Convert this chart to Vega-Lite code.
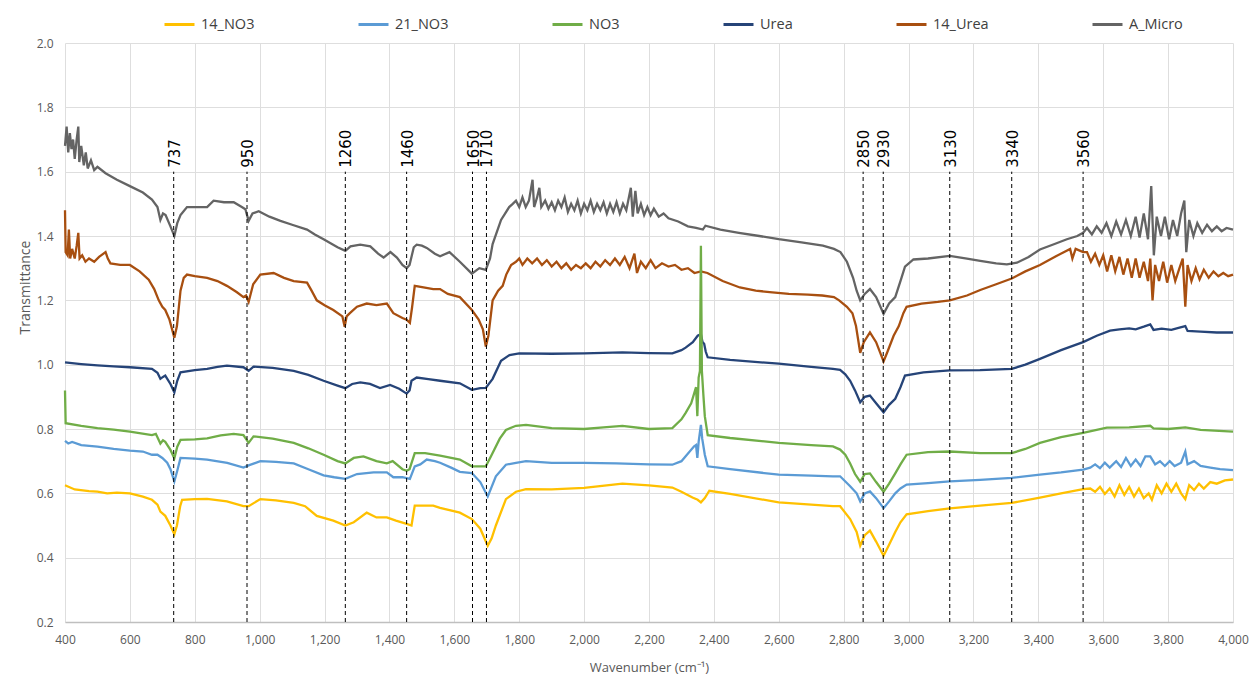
{
  "$schema": "https://vega.github.io/schema/vega-lite/v6.json",
  "width": 1168,
  "height": 579,
  "autosize": {"type": "none"},
  "padding": {"left": 65, "top": 43, "right": 19, "bottom": 66},
  "background": "white",
  "config": {
    "view": {"stroke": null},
    "font": "Open Sans",
    "axis": {"labelFont": "Open Sans", "titleFont": "Open Sans", "labelColor": "#595959", "titleColor": "#595959", "gridColor": "#dedede", "gridWidth": 1, "ticks": false, "titleFontWeight": "normal", "labelFlush": false}
  },
  "datasets": {
    "peaks": [
      {"pos": 735, "label": "737"},
      {"pos": 961, "label": "950"},
      {"pos": 1264, "label": "1260"},
      {"pos": 1453, "label": "1460"},
      {"pos": 1656, "label": "1650"},
      {"pos": 1699, "label": "1710"},
      {"pos": 2860, "label": "2850"},
      {"pos": 2922, "label": "2930"},
      {"pos": 3127, "label": "3130"},
      {"pos": 3318, "label": "3340"},
      {"pos": 3538, "label": "3560"}
    ],
    "spectra": [
      {"s":"A_Micro","x":400,"y":1.68},{"s":"A_Micro","x":405,"y":1.74},{"s":"A_Micro","x":410,"y":1.66},{"s":"A_Micro","x":415,"y":1.72},{"s":"A_Micro","x":420,"y":1.67},{"s":"A_Micro","x":425,"y":1.70},{"s":"A_Micro","x":430,"y":1.64},{"s":"A_Micro","x":436,"y":1.70},{"s":"A_Micro","x":441,"y":1.74},{"s":"A_Micro","x":444,"y":1.63},{"s":"A_Micro","x":450,"y":1.68},{"s":"A_Micro","x":458,"y":1.62},{"s":"A_Micro","x":464,"y":1.66},{"s":"A_Micro","x":470,"y":1.61},{"s":"A_Micro","x":480,"y":1.635},{"s":"A_Micro","x":490,"y":1.605},{"s":"A_Micro","x":500,"y":1.615},{"s":"A_Micro","x":525,"y":1.595},{"s":"A_Micro","x":560,"y":1.575},{"s":"A_Micro","x":600,"y":1.555},{"s":"A_Micro","x":640,"y":1.535},{"s":"A_Micro","x":668,"y":1.513},{"s":"A_Micro","x":685,"y":1.49},{"s":"A_Micro","x":694,"y":1.45},{"s":"A_Micro","x":702,"y":1.47},{"s":"A_Micro","x":710,"y":1.465},{"s":"A_Micro","x":725,"y":1.43},{"s":"A_Micro","x":737,"y":1.40},{"s":"A_Micro","x":746,"y":1.44},{"s":"A_Micro","x":756,"y":1.465},{"s":"A_Micro","x":776,"y":1.49},{"s":"A_Micro","x":800,"y":1.49},{"s":"A_Micro","x":838,"y":1.49},{"s":"A_Micro","x":858,"y":1.51},{"s":"A_Micro","x":890,"y":1.505},{"s":"A_Micro","x":920,"y":1.505},{"s":"A_Micro","x":945,"y":1.49},{"s":"A_Micro","x":956,"y":1.483},{"s":"A_Micro","x":966,"y":1.447},{"s":"A_Micro","x":978,"y":1.47},{"s":"A_Micro","x":997,"y":1.477},{"s":"A_Micro","x":1030,"y":1.46},{"s":"A_Micro","x":1064,"y":1.447},{"s":"A_Micro","x":1100,"y":1.435},{"s":"A_Micro","x":1146,"y":1.42},{"s":"A_Micro","x":1170,"y":1.405},{"s":"A_Micro","x":1197,"y":1.39},{"s":"A_Micro","x":1240,"y":1.365},{"s":"A_Micro","x":1264,"y":1.354},{"s":"A_Micro","x":1280,"y":1.368},{"s":"A_Micro","x":1310,"y":1.373},{"s":"A_Micro","x":1341,"y":1.368},{"s":"A_Micro","x":1365,"y":1.345},{"s":"A_Micro","x":1382,"y":1.333},{"s":"A_Micro","x":1403,"y":1.35},{"s":"A_Micro","x":1423,"y":1.333},{"s":"A_Micro","x":1440,"y":1.31},{"s":"A_Micro","x":1453,"y":1.30},{"s":"A_Micro","x":1462,"y":1.31},{"s":"A_Micro","x":1475,"y":1.365},{"s":"A_Micro","x":1484,"y":1.373},{"s":"A_Micro","x":1500,"y":1.37},{"s":"A_Micro","x":1515,"y":1.363},{"s":"A_Micro","x":1540,"y":1.345},{"s":"A_Micro","x":1556,"y":1.337},{"s":"A_Micro","x":1585,"y":1.35},{"s":"A_Micro","x":1617,"y":1.32},{"s":"A_Micro","x":1654,"y":1.283},{"s":"A_Micro","x":1677,"y":1.30},{"s":"A_Micro","x":1697,"y":1.295},{"s":"A_Micro","x":1710,"y":1.33},{"s":"A_Micro","x":1718,"y":1.375},{"s":"A_Micro","x":1744,"y":1.45},{"s":"A_Micro","x":1769,"y":1.49},{"s":"A_Micro","x":1780,"y":1.50},{"s":"A_Micro","x":1790,"y":1.51},{"s":"A_Micro","x":1800,"y":1.49},{"s":"A_Micro","x":1810,"y":1.52},{"s":"A_Micro","x":1820,"y":1.49},{"s":"A_Micro","x":1830,"y":1.51},{"s":"A_Micro","x":1841,"y":1.575},{"s":"A_Micro","x":1846,"y":1.49},{"s":"A_Micro","x":1855,"y":1.52},{"s":"A_Micro","x":1862,"y":1.55},{"s":"A_Micro","x":1868,"y":1.49},{"s":"A_Micro","x":1880,"y":1.51},{"s":"A_Micro","x":1890,"y":1.485},{"s":"A_Micro","x":1900,"y":1.505},{"s":"A_Micro","x":1910,"y":1.48},{"s":"A_Micro","x":1920,"y":1.51},{"s":"A_Micro","x":1930,"y":1.49},{"s":"A_Micro","x":1940,"y":1.52},{"s":"A_Micro","x":1950,"y":1.475},{"s":"A_Micro","x":1960,"y":1.50},{"s":"A_Micro","x":1970,"y":1.48},{"s":"A_Micro","x":1980,"y":1.51},{"s":"A_Micro","x":1990,"y":1.47},{"s":"A_Micro","x":2000,"y":1.50},{"s":"A_Micro","x":2010,"y":1.48},{"s":"A_Micro","x":2020,"y":1.51},{"s":"A_Micro","x":2030,"y":1.475},{"s":"A_Micro","x":2040,"y":1.50},{"s":"A_Micro","x":2050,"y":1.48},{"s":"A_Micro","x":2060,"y":1.505},{"s":"A_Micro","x":2070,"y":1.47},{"s":"A_Micro","x":2080,"y":1.50},{"s":"A_Micro","x":2090,"y":1.475},{"s":"A_Micro","x":2100,"y":1.505},{"s":"A_Micro","x":2110,"y":1.47},{"s":"A_Micro","x":2120,"y":1.50},{"s":"A_Micro","x":2130,"y":1.48},{"s":"A_Micro","x":2144,"y":1.55},{"s":"A_Micro","x":2150,"y":1.46},{"s":"A_Micro","x":2158,"y":1.54},{"s":"A_Micro","x":2165,"y":1.47},{"s":"A_Micro","x":2175,"y":1.50},{"s":"A_Micro","x":2185,"y":1.465},{"s":"A_Micro","x":2195,"y":1.49},{"s":"A_Micro","x":2205,"y":1.465},{"s":"A_Micro","x":2215,"y":1.485},{"s":"A_Micro","x":2230,"y":1.46},{"s":"A_Micro","x":2245,"y":1.47},{"s":"A_Micro","x":2260,"y":1.455},{"s":"A_Micro","x":2290,"y":1.445},{"s":"A_Micro","x":2320,"y":1.43},{"s":"A_Micro","x":2345,"y":1.425},{"s":"A_Micro","x":2366,"y":1.42},{"s":"A_Micro","x":2374,"y":1.432},{"s":"A_Micro","x":2420,"y":1.42},{"s":"A_Micro","x":2477,"y":1.41},{"s":"A_Micro","x":2540,"y":1.40},{"s":"A_Micro","x":2600,"y":1.39},{"s":"A_Micro","x":2670,"y":1.38},{"s":"A_Micro","x":2736,"y":1.37},{"s":"A_Micro","x":2770,"y":1.36},{"s":"A_Micro","x":2790,"y":1.35},{"s":"A_Micro","x":2810,"y":1.32},{"s":"A_Micro","x":2829,"y":1.27},{"s":"A_Micro","x":2840,"y":1.23},{"s":"A_Micro","x":2851,"y":1.20},{"s":"A_Micro","x":2865,"y":1.22},{"s":"A_Micro","x":2881,"y":1.235},{"s":"A_Micro","x":2900,"y":1.21},{"s":"A_Micro","x":2923,"y":1.158},{"s":"A_Micro","x":2940,"y":1.19},{"s":"A_Micro","x":2959,"y":1.21},{"s":"A_Micro","x":2975,"y":1.26},{"s":"A_Micro","x":2989,"y":1.305},{"s":"A_Micro","x":3015,"y":1.327},{"s":"A_Micro","x":3060,"y":1.33},{"s":"A_Micro","x":3127,"y":1.338},{"s":"A_Micro","x":3180,"y":1.33},{"s":"A_Micro","x":3221,"y":1.323},{"s":"A_Micro","x":3270,"y":1.315},{"s":"A_Micro","x":3303,"y":1.312},{"s":"A_Micro","x":3334,"y":1.317},{"s":"A_Micro","x":3370,"y":1.335},{"s":"A_Micro","x":3405,"y":1.358},{"s":"A_Micro","x":3450,"y":1.375},{"s":"A_Micro","x":3488,"y":1.39},{"s":"A_Micro","x":3520,"y":1.40},{"s":"A_Micro","x":3538,"y":1.41},{"s":"A_Micro","x":3550,"y":1.425},{"s":"A_Micro","x":3565,"y":1.405},{"s":"A_Micro","x":3580,"y":1.43},{"s":"A_Micro","x":3595,"y":1.41},{"s":"A_Micro","x":3610,"y":1.44},{"s":"A_Micro","x":3625,"y":1.40},{"s":"A_Micro","x":3640,"y":1.445},{"s":"A_Micro","x":3655,"y":1.405},{"s":"A_Micro","x":3670,"y":1.45},{"s":"A_Micro","x":3685,"y":1.40},{"s":"A_Micro","x":3700,"y":1.46},{"s":"A_Micro","x":3712,"y":1.395},{"s":"A_Micro","x":3725,"y":1.47},{"s":"A_Micro","x":3738,"y":1.39},{"s":"A_Micro","x":3748,"y":1.555},{"s":"A_Micro","x":3756,"y":1.34},{"s":"A_Micro","x":3765,"y":1.46},{"s":"A_Micro","x":3778,"y":1.40},{"s":"A_Micro","x":3790,"y":1.46},{"s":"A_Micro","x":3803,"y":1.39},{"s":"A_Micro","x":3815,"y":1.45},{"s":"A_Micro","x":3828,"y":1.40},{"s":"A_Micro","x":3840,"y":1.47},{"s":"A_Micro","x":3850,"y":1.51},{"s":"A_Micro","x":3856,"y":1.35},{"s":"A_Micro","x":3865,"y":1.45},{"s":"A_Micro","x":3878,"y":1.40},{"s":"A_Micro","x":3890,"y":1.44},{"s":"A_Micro","x":3905,"y":1.41},{"s":"A_Micro","x":3920,"y":1.435},{"s":"A_Micro","x":3935,"y":1.415},{"s":"A_Micro","x":3950,"y":1.43},{"s":"A_Micro","x":3965,"y":1.415},{"s":"A_Micro","x":3980,"y":1.425},{"s":"A_Micro","x":4000,"y":1.42},

      {"s":"14_Urea","x":400,"y":1.48},{"s":"14_Urea","x":402,"y":1.35},{"s":"14_Urea","x":408,"y":1.34},{"s":"14_Urea","x":412,"y":1.42},{"s":"14_Urea","x":416,"y":1.33},{"s":"14_Urea","x":422,"y":1.36},{"s":"14_Urea","x":430,"y":1.33},{"s":"14_Urea","x":436,"y":1.37},{"s":"14_Urea","x":441,"y":1.41},{"s":"14_Urea","x":445,"y":1.33},{"s":"14_Urea","x":453,"y":1.34},{"s":"14_Urea","x":463,"y":1.32},{"s":"14_Urea","x":474,"y":1.33},{"s":"14_Urea","x":490,"y":1.32},{"s":"14_Urea","x":505,"y":1.335},{"s":"14_Urea","x":525,"y":1.35},{"s":"14_Urea","x":532,"y":1.33},{"s":"14_Urea","x":540,"y":1.315},{"s":"14_Urea","x":570,"y":1.31},{"s":"14_Urea","x":600,"y":1.31},{"s":"14_Urea","x":630,"y":1.29},{"s":"14_Urea","x":658,"y":1.264},{"s":"14_Urea","x":675,"y":1.235},{"s":"14_Urea","x":689,"y":1.20},{"s":"14_Urea","x":700,"y":1.18},{"s":"14_Urea","x":709,"y":1.17},{"s":"14_Urea","x":722,"y":1.14},{"s":"14_Urea","x":737,"y":1.084},{"s":"14_Urea","x":745,"y":1.12},{"s":"14_Urea","x":756,"y":1.23},{"s":"14_Urea","x":766,"y":1.27},{"s":"14_Urea","x":776,"y":1.28},{"s":"14_Urea","x":800,"y":1.275},{"s":"14_Urea","x":838,"y":1.27},{"s":"14_Urea","x":870,"y":1.26},{"s":"14_Urea","x":899,"y":1.245},{"s":"14_Urea","x":930,"y":1.225},{"s":"14_Urea","x":950,"y":1.21},{"s":"14_Urea","x":958,"y":1.215},{"s":"14_Urea","x":966,"y":1.195},{"s":"14_Urea","x":980,"y":1.25},{"s":"14_Urea","x":1002,"y":1.28},{"s":"14_Urea","x":1043,"y":1.285},{"s":"14_Urea","x":1075,"y":1.27},{"s":"14_Urea","x":1105,"y":1.26},{"s":"14_Urea","x":1146,"y":1.255},{"s":"14_Urea","x":1160,"y":1.23},{"s":"14_Urea","x":1176,"y":1.20},{"s":"14_Urea","x":1200,"y":1.185},{"s":"14_Urea","x":1227,"y":1.17},{"s":"14_Urea","x":1255,"y":1.15},{"s":"14_Urea","x":1262,"y":1.118},{"s":"14_Urea","x":1268,"y":1.15},{"s":"14_Urea","x":1278,"y":1.16},{"s":"14_Urea","x":1300,"y":1.18},{"s":"14_Urea","x":1330,"y":1.19},{"s":"14_Urea","x":1360,"y":1.185},{"s":"14_Urea","x":1392,"y":1.19},{"s":"14_Urea","x":1412,"y":1.16},{"s":"14_Urea","x":1440,"y":1.145},{"s":"14_Urea","x":1453,"y":1.14},{"s":"14_Urea","x":1463,"y":1.13},{"s":"14_Urea","x":1470,"y":1.18},{"s":"14_Urea","x":1478,"y":1.245},{"s":"14_Urea","x":1505,"y":1.24},{"s":"14_Urea","x":1535,"y":1.235},{"s":"14_Urea","x":1556,"y":1.235},{"s":"14_Urea","x":1580,"y":1.22},{"s":"14_Urea","x":1617,"y":1.21},{"s":"14_Urea","x":1654,"y":1.17},{"s":"14_Urea","x":1675,"y":1.14},{"s":"14_Urea","x":1688,"y":1.11},{"s":"14_Urea","x":1697,"y":1.056},{"s":"14_Urea","x":1705,"y":1.09},{"s":"14_Urea","x":1718,"y":1.20},{"s":"14_Urea","x":1735,"y":1.23},{"s":"14_Urea","x":1749,"y":1.245},{"s":"14_Urea","x":1760,"y":1.28},{"s":"14_Urea","x":1775,"y":1.31},{"s":"14_Urea","x":1790,"y":1.32},{"s":"14_Urea","x":1800,"y":1.33},{"s":"14_Urea","x":1810,"y":1.31},{"s":"14_Urea","x":1825,"y":1.33},{"s":"14_Urea","x":1840,"y":1.315},{"s":"14_Urea","x":1855,"y":1.33},{"s":"14_Urea","x":1870,"y":1.31},{"s":"14_Urea","x":1885,"y":1.325},{"s":"14_Urea","x":1900,"y":1.305},{"s":"14_Urea","x":1915,"y":1.32},{"s":"14_Urea","x":1930,"y":1.30},{"s":"14_Urea","x":1945,"y":1.315},{"s":"14_Urea","x":1960,"y":1.295},{"s":"14_Urea","x":1975,"y":1.31},{"s":"14_Urea","x":1990,"y":1.30},{"s":"14_Urea","x":2005,"y":1.315},{"s":"14_Urea","x":2020,"y":1.30},{"s":"14_Urea","x":2035,"y":1.32},{"s":"14_Urea","x":2050,"y":1.305},{"s":"14_Urea","x":2065,"y":1.325},{"s":"14_Urea","x":2080,"y":1.31},{"s":"14_Urea","x":2095,"y":1.33},{"s":"14_Urea","x":2110,"y":1.31},{"s":"14_Urea","x":2125,"y":1.335},{"s":"14_Urea","x":2140,"y":1.30},{"s":"14_Urea","x":2155,"y":1.345},{"s":"14_Urea","x":2163,"y":1.285},{"s":"14_Urea","x":2175,"y":1.32},{"s":"14_Urea","x":2190,"y":1.30},{"s":"14_Urea","x":2205,"y":1.325},{"s":"14_Urea","x":2220,"y":1.30},{"s":"14_Urea","x":2240,"y":1.315},{"s":"14_Urea","x":2260,"y":1.305},{"s":"14_Urea","x":2280,"y":1.31},{"s":"14_Urea","x":2300,"y":1.295},{"s":"14_Urea","x":2320,"y":1.30},{"s":"14_Urea","x":2340,"y":1.285},{"s":"14_Urea","x":2360,"y":1.29},{"s":"14_Urea","x":2380,"y":1.285},{"s":"14_Urea","x":2427,"y":1.26},{"s":"14_Urea","x":2480,"y":1.24},{"s":"14_Urea","x":2529,"y":1.23},{"s":"14_Urea","x":2580,"y":1.225},{"s":"14_Urea","x":2631,"y":1.22},{"s":"14_Urea","x":2690,"y":1.218},{"s":"14_Urea","x":2734,"y":1.215},{"s":"14_Urea","x":2770,"y":1.21},{"s":"14_Urea","x":2786,"y":1.20},{"s":"14_Urea","x":2810,"y":1.18},{"s":"14_Urea","x":2827,"y":1.16},{"s":"14_Urea","x":2838,"y":1.12},{"s":"14_Urea","x":2851,"y":1.037},{"s":"14_Urea","x":2862,"y":1.07},{"s":"14_Urea","x":2881,"y":1.10},{"s":"14_Urea","x":2900,"y":1.07},{"s":"14_Urea","x":2923,"y":1.01},{"s":"14_Urea","x":2935,"y":1.04},{"s":"14_Urea","x":2954,"y":1.09},{"s":"14_Urea","x":2970,"y":1.12},{"s":"14_Urea","x":2984,"y":1.16},{"s":"14_Urea","x":2994,"y":1.18},{"s":"14_Urea","x":3040,"y":1.19},{"s":"14_Urea","x":3090,"y":1.195},{"s":"14_Urea","x":3127,"y":1.20},{"s":"14_Urea","x":3180,"y":1.215},{"s":"14_Urea","x":3221,"y":1.232},{"s":"14_Urea","x":3270,"y":1.25},{"s":"14_Urea","x":3318,"y":1.268},{"s":"14_Urea","x":3360,"y":1.29},{"s":"14_Urea","x":3405,"y":1.31},{"s":"14_Urea","x":3450,"y":1.335},{"s":"14_Urea","x":3498,"y":1.36},{"s":"14_Urea","x":3505,"y":1.33},{"s":"14_Urea","x":3515,"y":1.36},{"s":"14_Urea","x":3538,"y":1.35},{"s":"14_Urea","x":3550,"y":1.35},{"s":"14_Urea","x":3562,"y":1.32},{"s":"14_Urea","x":3575,"y":1.345},{"s":"14_Urea","x":3588,"y":1.31},{"s":"14_Urea","x":3600,"y":1.34},{"s":"14_Urea","x":3612,"y":1.29},{"s":"14_Urea","x":3625,"y":1.34},{"s":"14_Urea","x":3637,"y":1.29},{"s":"14_Urea","x":3650,"y":1.335},{"s":"14_Urea","x":3662,"y":1.28},{"s":"14_Urea","x":3675,"y":1.33},{"s":"14_Urea","x":3688,"y":1.27},{"s":"14_Urea","x":3700,"y":1.33},{"s":"14_Urea","x":3712,"y":1.27},{"s":"14_Urea","x":3725,"y":1.32},{"s":"14_Urea","x":3738,"y":1.26},{"s":"14_Urea","x":3745,"y":1.33},{"s":"14_Urea","x":3752,"y":1.20},{"s":"14_Urea","x":3760,"y":1.31},{"s":"14_Urea","x":3772,"y":1.26},{"s":"14_Urea","x":3785,"y":1.32},{"s":"14_Urea","x":3797,"y":1.255},{"s":"14_Urea","x":3810,"y":1.31},{"s":"14_Urea","x":3822,"y":1.26},{"s":"14_Urea","x":3835,"y":1.30},{"s":"14_Urea","x":3845,"y":1.33},{"s":"14_Urea","x":3853,"y":1.18},{"s":"14_Urea","x":3860,"y":1.31},{"s":"14_Urea","x":3872,"y":1.26},{"s":"14_Urea","x":3885,"y":1.30},{"s":"14_Urea","x":3897,"y":1.265},{"s":"14_Urea","x":3910,"y":1.295},{"s":"14_Urea","x":3925,"y":1.27},{"s":"14_Urea","x":3940,"y":1.29},{"s":"14_Urea","x":3955,"y":1.275},{"s":"14_Urea","x":3970,"y":1.285},{"s":"14_Urea","x":3985,"y":1.275},{"s":"14_Urea","x":4000,"y":1.28},

      {"s":"Urea","x":400,"y":1.007},{"s":"Urea","x":450,"y":1.002},{"s":"Urea","x":500,"y":0.998},{"s":"Urea","x":550,"y":0.995},{"s":"Urea","x":600,"y":0.992},{"s":"Urea","x":668,"y":0.987},{"s":"Urea","x":685,"y":0.975},{"s":"Urea","x":694,"y":0.956},{"s":"Urea","x":702,"y":0.962},{"s":"Urea","x":709,"y":0.966},{"s":"Urea","x":725,"y":0.94},{"s":"Urea","x":737,"y":0.914},{"s":"Urea","x":746,"y":0.95},{"s":"Urea","x":756,"y":0.976},{"s":"Urea","x":800,"y":0.983},{"s":"Urea","x":838,"y":0.987},{"s":"Urea","x":870,"y":0.993},{"s":"Urea","x":899,"y":0.997},{"s":"Urea","x":950,"y":0.992},{"s":"Urea","x":966,"y":0.981},{"s":"Urea","x":981,"y":0.994},{"s":"Urea","x":1040,"y":0.99},{"s":"Urea","x":1105,"y":0.981},{"s":"Urea","x":1150,"y":0.968},{"s":"Urea","x":1197,"y":0.95},{"s":"Urea","x":1240,"y":0.935},{"s":"Urea","x":1264,"y":0.927},{"s":"Urea","x":1285,"y":0.94},{"s":"Urea","x":1310,"y":0.945},{"s":"Urea","x":1340,"y":0.94},{"s":"Urea","x":1371,"y":0.927},{"s":"Urea","x":1402,"y":0.937},{"s":"Urea","x":1430,"y":0.925},{"s":"Urea","x":1453,"y":0.91},{"s":"Urea","x":1462,"y":0.92},{"s":"Urea","x":1468,"y":0.95},{"s":"Urea","x":1484,"y":0.96},{"s":"Urea","x":1520,"y":0.955},{"s":"Urea","x":1556,"y":0.95},{"s":"Urea","x":1617,"y":0.942},{"s":"Urea","x":1654,"y":0.922},{"s":"Urea","x":1680,"y":0.927},{"s":"Urea","x":1697,"y":0.928},{"s":"Urea","x":1718,"y":0.956},{"s":"Urea","x":1744,"y":1.012},{"s":"Urea","x":1770,"y":1.03},{"s":"Urea","x":1800,"y":1.035},{"s":"Urea","x":1900,"y":1.034},{"s":"Urea","x":2000,"y":1.035},{"s":"Urea","x":2118,"y":1.038},{"s":"Urea","x":2200,"y":1.036},{"s":"Urea","x":2272,"y":1.035},{"s":"Urea","x":2300,"y":1.045},{"s":"Urea","x":2313,"y":1.053},{"s":"Urea","x":2335,"y":1.07},{"s":"Urea","x":2350,"y":1.09},{"s":"Urea","x":2360,"y":1.095},{"s":"Urea","x":2365,"y":1.07},{"s":"Urea","x":2370,"y":1.065},{"s":"Urea","x":2375,"y":1.04},{"s":"Urea","x":2381,"y":1.023},{"s":"Urea","x":2450,"y":1.015},{"s":"Urea","x":2600,"y":1.003},{"s":"Urea","x":2700,"y":0.993},{"s":"Urea","x":2767,"y":0.987},{"s":"Urea","x":2789,"y":0.984},{"s":"Urea","x":2805,"y":0.97},{"s":"Urea","x":2820,"y":0.95},{"s":"Urea","x":2835,"y":0.92},{"s":"Urea","x":2851,"y":0.883},{"s":"Urea","x":2865,"y":0.90},{"s":"Urea","x":2881,"y":0.904},{"s":"Urea","x":2900,"y":0.88},{"s":"Urea","x":2923,"y":0.852},{"s":"Urea","x":2940,"y":0.875},{"s":"Urea","x":2959,"y":0.894},{"s":"Urea","x":2975,"y":0.93},{"s":"Urea","x":2989,"y":0.966},{"s":"Urea","x":3046,"y":0.976},{"s":"Urea","x":3127,"y":0.982},{"s":"Urea","x":3220,"y":0.983},{"s":"Urea","x":3318,"y":0.987},{"s":"Urea","x":3360,"y":1.0},{"s":"Urea","x":3405,"y":1.018},{"s":"Urea","x":3470,"y":1.045},{"s":"Urea","x":3538,"y":1.07},{"s":"Urea","x":3580,"y":1.09},{"s":"Urea","x":3621,"y":1.106},{"s":"Urea","x":3650,"y":1.11},{"s":"Urea","x":3680,"y":1.113},{"s":"Urea","x":3700,"y":1.11},{"s":"Urea","x":3725,"y":1.118},{"s":"Urea","x":3745,"y":1.125},{"s":"Urea","x":3755,"y":1.108},{"s":"Urea","x":3780,"y":1.112},{"s":"Urea","x":3810,"y":1.108},{"s":"Urea","x":3835,"y":1.115},{"s":"Urea","x":3853,"y":1.12},{"s":"Urea","x":3860,"y":1.105},{"s":"Urea","x":3900,"y":1.103},{"s":"Urea","x":3950,"y":1.10},{"s":"Urea","x":4000,"y":1.10},

      {"s":"NO3","x":400,"y":0.92},{"s":"NO3","x":402,"y":0.818},{"s":"NO3","x":450,"y":0.81},{"s":"NO3","x":500,"y":0.803},{"s":"NO3","x":550,"y":0.798},{"s":"NO3","x":600,"y":0.792},{"s":"NO3","x":668,"y":0.781},{"s":"NO3","x":680,"y":0.785},{"s":"NO3","x":694,"y":0.755},{"s":"NO3","x":702,"y":0.765},{"s":"NO3","x":709,"y":0.76},{"s":"NO3","x":725,"y":0.735},{"s":"NO3","x":737,"y":0.709},{"s":"NO3","x":746,"y":0.745},{"s":"NO3","x":756,"y":0.766},{"s":"NO3","x":800,"y":0.768},{"s":"NO3","x":838,"y":0.771},{"s":"NO3","x":880,"y":0.78},{"s":"NO3","x":920,"y":0.785},{"s":"NO3","x":950,"y":0.781},{"s":"NO3","x":966,"y":0.757},{"s":"NO3","x":981,"y":0.777},{"s":"NO3","x":1040,"y":0.77},{"s":"NO3","x":1105,"y":0.757},{"s":"NO3","x":1150,"y":0.74},{"s":"NO3","x":1197,"y":0.72},{"s":"NO3","x":1240,"y":0.70},{"s":"NO3","x":1264,"y":0.693},{"s":"NO3","x":1290,"y":0.71},{"s":"NO3","x":1320,"y":0.715},{"s":"NO3","x":1360,"y":0.70},{"s":"NO3","x":1392,"y":0.693},{"s":"NO3","x":1410,"y":0.70},{"s":"NO3","x":1440,"y":0.675},{"s":"NO3","x":1453,"y":0.67},{"s":"NO3","x":1462,"y":0.675},{"s":"NO3","x":1478,"y":0.725},{"s":"NO3","x":1510,"y":0.725},{"s":"NO3","x":1556,"y":0.717},{"s":"NO3","x":1617,"y":0.705},{"s":"NO3","x":1654,"y":0.684},{"s":"NO3","x":1697,"y":0.684},{"s":"NO3","x":1713,"y":0.715},{"s":"NO3","x":1740,"y":0.77},{"s":"NO3","x":1759,"y":0.797},{"s":"NO3","x":1790,"y":0.81},{"s":"NO3","x":1821,"y":0.813},{"s":"NO3","x":1900,"y":0.803},{"s":"NO3","x":2000,"y":0.80},{"s":"NO3","x":2060,"y":0.805},{"s":"NO3","x":2118,"y":0.81},{"s":"NO3","x":2200,"y":0.80},{"s":"NO3","x":2272,"y":0.803},{"s":"NO3","x":2300,"y":0.83},{"s":"NO3","x":2313,"y":0.85},{"s":"NO3","x":2330,"y":0.88},{"s":"NO3","x":2339,"y":0.91},{"s":"NO3","x":2345,"y":0.93},{"s":"NO3","x":2349,"y":0.84},{"s":"NO3","x":2353,"y":0.96},{"s":"NO3","x":2357,"y":0.98},{"s":"NO3","x":2360,"y":1.37},{"s":"NO3","x":2363,"y":0.98},{"s":"NO3","x":2368,"y":0.90},{"s":"NO3","x":2372,"y":0.84},{"s":"NO3","x":2381,"y":0.781},{"s":"NO3","x":2450,"y":0.772},{"s":"NO3","x":2600,"y":0.757},{"s":"NO3","x":2700,"y":0.75},{"s":"NO3","x":2767,"y":0.746},{"s":"NO3","x":2789,"y":0.736},{"s":"NO3","x":2805,"y":0.72},{"s":"NO3","x":2820,"y":0.693},{"s":"NO3","x":2835,"y":0.66},{"s":"NO3","x":2851,"y":0.636},{"s":"NO3","x":2865,"y":0.66},{"s":"NO3","x":2881,"y":0.662},{"s":"NO3","x":2900,"y":0.635},{"s":"NO3","x":2923,"y":0.605},{"s":"NO3","x":2940,"y":0.63},{"s":"NO3","x":2959,"y":0.662},{"s":"NO3","x":2975,"y":0.69},{"s":"NO3","x":2994,"y":0.72},{"s":"NO3","x":3060,"y":0.728},{"s":"NO3","x":3127,"y":0.73},{"s":"NO3","x":3221,"y":0.725},{"s":"NO3","x":3318,"y":0.725},{"s":"NO3","x":3360,"y":0.738},{"s":"NO3","x":3405,"y":0.757},{"s":"NO3","x":3470,"y":0.775},{"s":"NO3","x":3538,"y":0.788},{"s":"NO3","x":3611,"y":0.804},{"s":"NO3","x":3680,"y":0.805},{"s":"NO3","x":3745,"y":0.81},{"s":"NO3","x":3755,"y":0.802},{"s":"NO3","x":3800,"y":0.80},{"s":"NO3","x":3853,"y":0.805},{"s":"NO3","x":3900,"y":0.797},{"s":"NO3","x":4000,"y":0.792},

      {"s":"21_NO3","x":400,"y":0.763},{"s":"21_NO3","x":410,"y":0.755},{"s":"21_NO3","x":422,"y":0.76},{"s":"21_NO3","x":450,"y":0.75},{"s":"21_NO3","x":500,"y":0.745},{"s":"21_NO3","x":550,"y":0.738},{"s":"21_NO3","x":600,"y":0.733},{"s":"21_NO3","x":640,"y":0.73},{"s":"21_NO3","x":668,"y":0.72},{"s":"21_NO3","x":685,"y":0.72},{"s":"21_NO3","x":700,"y":0.71},{"s":"21_NO3","x":715,"y":0.695},{"s":"21_NO3","x":725,"y":0.675},{"s":"21_NO3","x":737,"y":0.637},{"s":"21_NO3","x":746,"y":0.67},{"s":"21_NO3","x":756,"y":0.71},{"s":"21_NO3","x":800,"y":0.708},{"s":"21_NO3","x":838,"y":0.705},{"s":"21_NO3","x":900,"y":0.695},{"s":"21_NO3","x":950,"y":0.68},{"s":"21_NO3","x":966,"y":0.687},{"s":"21_NO3","x":1002,"y":0.70},{"s":"21_NO3","x":1050,"y":0.698},{"s":"21_NO3","x":1105,"y":0.693},{"s":"21_NO3","x":1150,"y":0.675},{"s":"21_NO3","x":1197,"y":0.656},{"s":"21_NO3","x":1230,"y":0.65},{"s":"21_NO3","x":1264,"y":0.645},{"s":"21_NO3","x":1300,"y":0.66},{"s":"21_NO3","x":1351,"y":0.665},{"s":"21_NO3","x":1392,"y":0.665},{"s":"21_NO3","x":1412,"y":0.65},{"s":"21_NO3","x":1440,"y":0.65},{"s":"21_NO3","x":1463,"y":0.645},{"s":"21_NO3","x":1478,"y":0.684},{"s":"21_NO3","x":1495,"y":0.69},{"s":"21_NO3","x":1515,"y":0.705},{"s":"21_NO3","x":1540,"y":0.70},{"s":"21_NO3","x":1556,"y":0.695},{"s":"21_NO3","x":1590,"y":0.68},{"s":"21_NO3","x":1617,"y":0.667},{"s":"21_NO3","x":1654,"y":0.663},{"s":"21_NO3","x":1680,"y":0.635},{"s":"21_NO3","x":1703,"y":0.59},{"s":"21_NO3","x":1715,"y":0.62},{"s":"21_NO3","x":1728,"y":0.653},{"s":"21_NO3","x":1759,"y":0.689},{"s":"21_NO3","x":1790,"y":0.695},{"s":"21_NO3","x":1821,"y":0.70},{"s":"21_NO3","x":1900,"y":0.695},{"s":"21_NO3","x":2000,"y":0.695},{"s":"21_NO3","x":2100,"y":0.693},{"s":"21_NO3","x":2200,"y":0.69},{"s":"21_NO3","x":2272,"y":0.689},{"s":"21_NO3","x":2300,"y":0.70},{"s":"21_NO3","x":2313,"y":0.715},{"s":"21_NO3","x":2339,"y":0.746},{"s":"21_NO3","x":2345,"y":0.75},{"s":"21_NO3","x":2349,"y":0.71},{"s":"21_NO3","x":2353,"y":0.76},{"s":"21_NO3","x":2360,"y":0.813},{"s":"21_NO3","x":2364,"y":0.77},{"s":"21_NO3","x":2372,"y":0.72},{"s":"21_NO3","x":2381,"y":0.684},{"s":"21_NO3","x":2450,"y":0.675},{"s":"21_NO3","x":2600,"y":0.658},{"s":"21_NO3","x":2700,"y":0.655},{"s":"21_NO3","x":2767,"y":0.653},{"s":"21_NO3","x":2789,"y":0.653},{"s":"21_NO3","x":2820,"y":0.622},{"s":"21_NO3","x":2840,"y":0.60},{"s":"21_NO3","x":2851,"y":0.575},{"s":"21_NO3","x":2865,"y":0.60},{"s":"21_NO3","x":2881,"y":0.606},{"s":"21_NO3","x":2900,"y":0.585},{"s":"21_NO3","x":2923,"y":0.554},{"s":"21_NO3","x":2940,"y":0.575},{"s":"21_NO3","x":2959,"y":0.60},{"s":"21_NO3","x":2975,"y":0.615},{"s":"21_NO3","x":2994,"y":0.627},{"s":"21_NO3","x":3060,"y":0.632},{"s":"21_NO3","x":3127,"y":0.637},{"s":"21_NO3","x":3221,"y":0.642},{"s":"21_NO3","x":3318,"y":0.648},{"s":"21_NO3","x":3405,"y":0.658},{"s":"21_NO3","x":3470,"y":0.665},{"s":"21_NO3","x":3538,"y":0.674},{"s":"21_NO3","x":3560,"y":0.68},{"s":"21_NO3","x":3575,"y":0.69},{"s":"21_NO3","x":3590,"y":0.678},{"s":"21_NO3","x":3605,"y":0.695},{"s":"21_NO3","x":3620,"y":0.68},{"s":"21_NO3","x":3640,"y":0.70},{"s":"21_NO3","x":3655,"y":0.682},{"s":"21_NO3","x":3670,"y":0.71},{"s":"21_NO3","x":3685,"y":0.685},{"s":"21_NO3","x":3700,"y":0.705},{"s":"21_NO3","x":3715,"y":0.685},{"s":"21_NO3","x":3730,"y":0.715},{"s":"21_NO3","x":3745,"y":0.715},{"s":"21_NO3","x":3760,"y":0.69},{"s":"21_NO3","x":3775,"y":0.70},{"s":"21_NO3","x":3790,"y":0.685},{"s":"21_NO3","x":3805,"y":0.70},{"s":"21_NO3","x":3820,"y":0.685},{"s":"21_NO3","x":3840,"y":0.695},{"s":"21_NO3","x":3853,"y":0.73},{"s":"21_NO3","x":3860,"y":0.69},{"s":"21_NO3","x":3880,"y":0.70},{"s":"21_NO3","x":3900,"y":0.685},{"s":"21_NO3","x":3930,"y":0.68},{"s":"21_NO3","x":3960,"y":0.675},{"s":"21_NO3","x":4000,"y":0.672},

      {"s":"14_NO3","x":400,"y":0.625},{"s":"14_NO3","x":430,"y":0.612},{"s":"14_NO3","x":474,"y":0.607},{"s":"14_NO3","x":500,"y":0.605},{"s":"14_NO3","x":530,"y":0.60},{"s":"14_NO3","x":560,"y":0.602},{"s":"14_NO3","x":600,"y":0.60},{"s":"14_NO3","x":640,"y":0.59},{"s":"14_NO3","x":668,"y":0.58},{"s":"14_NO3","x":685,"y":0.565},{"s":"14_NO3","x":694,"y":0.543},{"s":"14_NO3","x":709,"y":0.53},{"s":"14_NO3","x":725,"y":0.50},{"s":"14_NO3","x":737,"y":0.473},{"s":"14_NO3","x":745,"y":0.50},{"s":"14_NO3","x":755,"y":0.56},{"s":"14_NO3","x":761,"y":0.58},{"s":"14_NO3","x":800,"y":0.582},{"s":"14_NO3","x":838,"y":0.583},{"s":"14_NO3","x":899,"y":0.575},{"s":"14_NO3","x":950,"y":0.56},{"s":"14_NO3","x":966,"y":0.56},{"s":"14_NO3","x":1002,"y":0.582},{"s":"14_NO3","x":1050,"y":0.578},{"s":"14_NO3","x":1105,"y":0.57},{"s":"14_NO3","x":1140,"y":0.56},{"s":"14_NO3","x":1176,"y":0.53},{"s":"14_NO3","x":1227,"y":0.515},{"s":"14_NO3","x":1264,"y":0.50},{"s":"14_NO3","x":1290,"y":0.51},{"s":"14_NO3","x":1330,"y":0.54},{"s":"14_NO3","x":1360,"y":0.525},{"s":"14_NO3","x":1392,"y":0.525},{"s":"14_NO3","x":1420,"y":0.515},{"s":"14_NO3","x":1453,"y":0.505},{"s":"14_NO3","x":1468,"y":0.50},{"s":"14_NO3","x":1478,"y":0.562},{"s":"14_NO3","x":1535,"y":0.562},{"s":"14_NO3","x":1556,"y":0.555},{"s":"14_NO3","x":1617,"y":0.54},{"s":"14_NO3","x":1654,"y":0.52},{"s":"14_NO3","x":1680,"y":0.49},{"s":"14_NO3","x":1703,"y":0.437},{"s":"14_NO3","x":1715,"y":0.46},{"s":"14_NO3","x":1728,"y":0.50},{"s":"14_NO3","x":1759,"y":0.582},{"s":"14_NO3","x":1790,"y":0.605},{"s":"14_NO3","x":1821,"y":0.613},{"s":"14_NO3","x":1900,"y":0.612},{"s":"14_NO3","x":2000,"y":0.617},{"s":"14_NO3","x":2118,"y":0.63},{"s":"14_NO3","x":2200,"y":0.625},{"s":"14_NO3","x":2272,"y":0.618},{"s":"14_NO3","x":2300,"y":0.605},{"s":"14_NO3","x":2334,"y":0.587},{"s":"14_NO3","x":2350,"y":0.58},{"s":"14_NO3","x":2360,"y":0.572},{"s":"14_NO3","x":2372,"y":0.585},{"s":"14_NO3","x":2386,"y":0.608},{"s":"14_NO3","x":2450,"y":0.598},{"s":"14_NO3","x":2600,"y":0.572},{"s":"14_NO3","x":2700,"y":0.565},{"s":"14_NO3","x":2767,"y":0.56},{"s":"14_NO3","x":2789,"y":0.56},{"s":"14_NO3","x":2820,"y":0.52},{"s":"14_NO3","x":2840,"y":0.48},{"s":"14_NO3","x":2851,"y":0.437},{"s":"14_NO3","x":2865,"y":0.47},{"s":"14_NO3","x":2881,"y":0.484},{"s":"14_NO3","x":2900,"y":0.45},{"s":"14_NO3","x":2923,"y":0.406},{"s":"14_NO3","x":2940,"y":0.44},{"s":"14_NO3","x":2959,"y":0.48},{"s":"14_NO3","x":2975,"y":0.51},{"s":"14_NO3","x":2994,"y":0.535},{"s":"14_NO3","x":3060,"y":0.545},{"s":"14_NO3","x":3127,"y":0.553},{"s":"14_NO3","x":3221,"y":0.562},{"s":"14_NO3","x":3318,"y":0.57},{"s":"14_NO3","x":3405,"y":0.587},{"s":"14_NO3","x":3470,"y":0.60},{"s":"14_NO3","x":3538,"y":0.613},{"s":"14_NO3","x":3560,"y":0.615},{"s":"14_NO3","x":3575,"y":0.605},{"s":"14_NO3","x":3590,"y":0.62},{"s":"14_NO3","x":3605,"y":0.598},{"s":"14_NO3","x":3620,"y":0.615},{"s":"14_NO3","x":3635,"y":0.59},{"s":"14_NO3","x":3650,"y":0.625},{"s":"14_NO3","x":3665,"y":0.595},{"s":"14_NO3","x":3680,"y":0.62},{"s":"14_NO3","x":3695,"y":0.59},{"s":"14_NO3","x":3710,"y":0.615},{"s":"14_NO3","x":3725,"y":0.585},{"s":"14_NO3","x":3740,"y":0.60},{"s":"14_NO3","x":3750,"y":0.58},{"s":"14_NO3","x":3765,"y":0.625},{"s":"14_NO3","x":3780,"y":0.60},{"s":"14_NO3","x":3795,"y":0.63},{"s":"14_NO3","x":3810,"y":0.605},{"s":"14_NO3","x":3825,"y":0.63},{"s":"14_NO3","x":3840,"y":0.60},{"s":"14_NO3","x":3853,"y":0.582},{"s":"14_NO3","x":3865,"y":0.625},{"s":"14_NO3","x":3880,"y":0.61},{"s":"14_NO3","x":3895,"y":0.63},{"s":"14_NO3","x":3910,"y":0.615},{"s":"14_NO3","x":3930,"y":0.635},{"s":"14_NO3","x":3950,"y":0.63},{"s":"14_NO3","x":3975,"y":0.64},{"s":"14_NO3","x":4000,"y":0.643}
    ]
  },
  "layer": [
    {
      "data": {"name": "spectra"},
      "mark": {"type": "line", "strokeWidth": 2.3, "interpolate": "linear"},
      "encoding": {
        "x": {"field": "x", "type": "quantitative", "scale": {"domain": [400, 4000], "nice": false},
          "axis": {"values": [400,600,800,1000,1200,1400,1600,1800,2000,2200,2400,2600,2800,3000,3200,3400,3600,3800,4000], "format": ",d", "labelFontSize": 12, "labelPadding": 12, "grid": true, "domainColor": "#bfbfbf", "domainWidth": 1.5, "title": "Wavenumber (cm⁻¹)", "titleFontSize": 13, "titlePadding": 16}},
        "y": {"field": "y", "type": "quantitative", "scale": {"domain": [0.2, 2.0], "nice": false},
          "axis": {"values": [0.2,0.4,0.6,0.8,1.0,1.2,1.4,1.6,1.8,2.0], "format": ".1f", "labelFontSize": 12, "labelPadding": 12, "grid": true, "domain": false, "title": "Transmittance", "titleFontSize": 14, "titleX": -33, "titleY": 244, "titleAlign": "center"}},
        "color": {"field": "s", "type": "nominal",
          "scale": {"domain": ["14_NO3", "21_NO3", "NO3", "Urea", "14_Urea", "A_Micro"], "range": ["#FFC000", "#5B9BD5", "#70AD47", "#264478", "#A84F10", "#646464"]},
          "legend": {"title": null, "orient": "none", "legendX": 98, "legendY": -35, "direction": "horizontal", "symbolType": "stroke", "symbolSize": 900, "symbolStrokeWidth": 3, "labelFontSize": 14.5, "labelColor": "#404040", "labelOffset": 5, "columnPadding": 97, "labelFont": "Open Sans"}}
      }
    },
    {
      "data": {"name": "peaks"},
      "mark": {"type": "rule", "color": "black", "strokeWidth": 1, "strokeDash": [4, 3]},
      "encoding": {
        "x": {"field": "pos", "type": "quantitative"},
        "y": {"datum": 0.2},
        "y2": {"datum": 1.6}
      }
    },
    {
      "data": {"name": "peaks"},
      "mark": {"type": "text", "angle": 270, "align": "left", "baseline": "middle", "font": "DejaVu Sans", "fontSize": 15, "color": "black", "dy": 1},
      "encoding": {
        "x": {"field": "pos", "type": "quantitative"},
        "y": {"datum": 1.612},
        "text": {"field": "label"}
      }
    }
  ]
}
